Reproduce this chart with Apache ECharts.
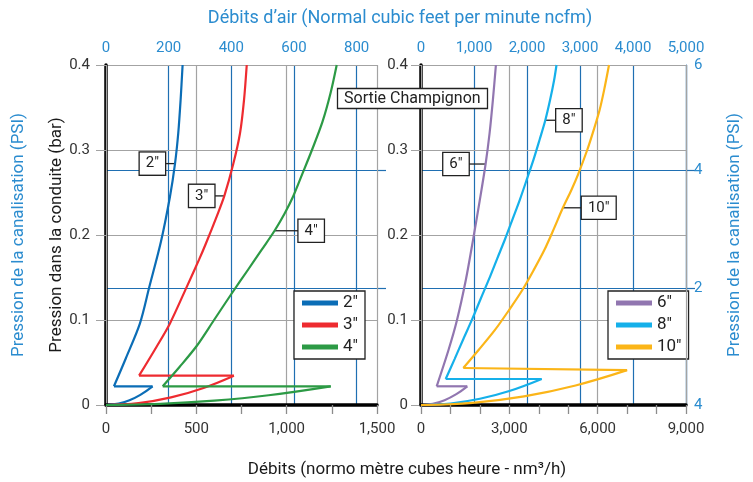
<!DOCTYPE html>
<html>
<head>
<meta charset="utf-8">
<script src="https://cdn.jsdelivr.net/npm/echarts@6/dist/echarts.min.js"></script>
<style>
  html, body { margin: 0; padding: 0; background: #fff; }
  #chart { width: 753px; height: 482px; }
</style>
</head>
<body>
<div id="chart"></div>
<script>
// débit en nm³/h (x), pression en bar (y)
// chaque courbe : branche basse (0 -> pic), retour horizontal, branche haute
const pipes = ['2″', '3″', '4″', '6″', '8″', '10″']
const colors = ['#0b6db6', '#ee2b30', '#2c9a45', '#9176b0', '#15b0ea', '#fbb518']

const curve2 = [[0, 0], [70, 0.0016], [130, 0.0056], [190, 0.0119], [258, 0.022], [44, 0.022], [110, 0.055], [188, 0.096], [240, 0.139], [304, 0.192], [354, 0.245], [382, 0.284], [400, 0.32], [413, 0.359], [424, 0.4]]
const curve3 = [[0, 0], [180, 0.0022], [360, 0.0089], [540, 0.0201], [708, 0.0345], [183, 0.0345], [280, 0.0686], [354, 0.096], [447, 0.139], [515, 0.171], [553, 0.19], [613, 0.222], [655, 0.246], [705, 0.284], [742, 0.32], [764, 0.359], [779, 0.4]]
const curve4 = [[0, 0], [300, 0.0013], [600, 0.0051], [900, 0.0115], [1244, 0.022], [314, 0.022], [408, 0.045], [504, 0.07], [598, 0.1], [692, 0.13], [789, 0.16], [863, 0.183], [933, 0.205], [988, 0.225], [1035, 0.245], [1085, 0.271], [1140, 0.3], [1198, 0.333], [1243, 0.367], [1277, 0.4]]
const curve6 = [[0, 0], [400, 0.0014], [800, 0.0057], [1200, 0.0128], [1573, 0.022], [533, 0.022], [937, 0.065], [1223, 0.1], [1522, 0.147], [1766, 0.194], [1997, 0.241], [2194, 0.2835], [2330, 0.32], [2442, 0.359], [2544, 0.4]]
const curve8 = [[0, 0], [1000, 0.0018], [2000, 0.0073], [3000, 0.0164], [4099, 0.0306], [839, 0.0306], [1141, 0.054], [1443, 0.078], [1739, 0.101], [2028, 0.125], [2309, 0.148], [2585, 0.172], [2853, 0.195], [3114, 0.219], [3362, 0.242], [3600, 0.266], [3824, 0.289], [4035, 0.313], [4222, 0.335], [4385, 0.359], [4520, 0.382], [4602, 0.4]]
const curve10 = [[0, 0], [1750, 0.0026], [3500, 0.0102], [5250, 0.023], [7000, 0.041], [1437, 0.0435], [1963, 0.065], [2506, 0.088], [2996, 0.112], [3437, 0.135], [3831, 0.159], [4184, 0.182], [4497, 0.206], [4819, 0.232], [5108, 0.253], [5332, 0.271], [5645, 0.3], [5869, 0.324], [6066, 0.347], [6222, 0.371], [6385, 0.4]]
const curves = [curve2, curve3, curve4, curve6, curve8, curve10]

// point de chaque courbe où est accrochée l'étiquette
const labelIdx = [11, 12, 12, 11, 18, 13]
const leadLen = [10, 10, 24, 17, 11, 19]
const leadSide = [-1, -1, 1, -1, 1, 1]

const barMax = 0.4
const psiMax = barMax * 14.5038
const psiTicks = [0, 2, 4, psiMax]
const psiText = ['4', '2', '4', '6'] // comme sur l'original
const cfmMaxLeft = 865
const cfmMaxRight = 5000

const font = 'Roboto'
const blueText = '#2b8ccf'
const blueLine = '#1f6fb2'
const grey = '#a3a3a3'
const ink = '#1a1a1a'

const chart = echarts.init(document.getElementById('chart'))

const fmt = v => v.toLocaleString('en-US')

function bottomAxis(grid, max, interval, minor) {
  return {
    type: 'value', gridIndex: grid, position: 'bottom', min: 0, max: max, interval: interval,
    axisLine: {show: true, onZero: false, lineStyle: {color: '#000', width: 3.5}},
    axisTick: {show: true, inside: false, length: 9, lineStyle: {color: '#8c8c8c', width: 1.3}},
    minorTick: {show: true, splitNumber: minor, length: 9, lineStyle: {color: '#8c8c8c', width: 1.3}},
    axisLabel: {margin: 17, color: '#333', fontSize: 15, fontFamily: font, formatter: fmt},
    splitLine: {show: true, lineStyle: {color: grey, width: 1.2}},
    z: 4,
  }
}

function topAxis(grid, max, showMax) {
  return {
    type: 'value', gridIndex: grid, position: 'top', min: 0, max: max, interval: grid === 0 ? 200 : 1000,
    axisLine: {show: false},
    axisTick: {length: 6, lineStyle: {color: blueLine}},
    axisLabel: {margin: 9, color: blueText, fontSize: 15, fontFamily: font, formatter: fmt, showMaxLabel: showMax},
    splitLine: {show: true, showMinLine: false, showMaxLine: showMax, lineStyle: {color: blueLine, width: 1.2}},
  }
}

function barAxis(grid, margin, name) {
  return {
    type: 'value', gridIndex: grid, position: 'left', min: 0, max: barMax, interval: 0.1,
    name: name, nameLocation: 'middle', nameGap: 38, nameRotate: 90,
    nameTextStyle: {color: ink, fontSize: 17, fontFamily: font},
    axisLine: {show: true, onZero: false, lineStyle: {color: '#000', width: 3.5}},
    axisTick: {length: 10, lineStyle: {color: grey}},
    axisLabel: {margin: margin, color: '#333', fontSize: 15, fontFamily: font},
    splitLine: {show: true, lineStyle: {color: grey, width: 1.2}},
    z: 3,
  }
}

function psiAxis(grid, withLabels) {
  return {
    type: 'value', gridIndex: grid, position: 'right', min: 0, max: psiMax, interval: 2,
    name: withLabels ? 'Pression de la canalisation (PSI)' : '',
    nameLocation: 'middle', nameGap: 40, nameRotate: 90,
    nameTextStyle: {color: blueText, fontSize: 17, fontFamily: font},
    axisLine: {show: withLabels, onZero: false, lineStyle: {color: blueLine, width: 1.2}},
    axisTick: {length: 9, customValues: [2, 4], lineStyle: {color: blueLine, width: 1.2}},
    axisLabel: {
      show: withLabels, margin: 8, color: blueText, fontSize: 15, fontFamily: font,
      formatter: v => psiText[psiTicks.indexOf(v)] || '',
    },
    splitLine: {show: true, lineStyle: {color: blueLine, width: 1.2}},
  }
}

const series = []
curves.forEach((data, i) => {
  const side = leadSide[i]
  const common = {
    name: pipes[i],
    type: 'line',
    xAxisIndex: i < 3 ? 0 : 2,
    yAxisIndex: i < 3 ? 0 : 3,
    showSymbol: false,
    lineStyle: {color: colors[i], width: 2.2},
    itemStyle: {color: colors[i]},
    z: 5,
  }
  series.push({...common, data: data.slice(0, 5), smooth: 0.4})
  series.push({...common, data: data.slice(4, 6), smooth: false})
  series.push({
    ...common,
    data: data.slice(5),
    smooth: 0.3,
    markPoint: {
      symbol: 'rect',
      symbolSize: [leadLen[i], 1.3],
      symbolOffset: [side * leadLen[i] / 2, 0],
      itemStyle: {color: '#222'},
      label: {
        show: true, position: side < 0 ? 'left' : 'right', distance: 0,
        formatter: pipes[i], color: '#222', fontSize: 15, fontFamily: font, lineHeight: 16,
        backgroundColor: '#fff', borderColor: '#222', borderWidth: 1.3, padding: [3, 6],
      },
      data: [{coord: data[labelIdx[i]]}],
    },
  })
})

function legendBox(left, names) {
  return {
    data: names, left: left, top: 291, orient: 'vertical', icon: 'rect',
    itemWidth: 36, itemHeight: 5, itemGap: 4, padding: [3, 7, 3, 8],
    backgroundColor: '#fff', borderColor: '#222', borderWidth: 1.3,
    textStyle: {color: '#222', fontSize: 17, fontFamily: font, lineHeight: 18},
  }
}

const options = {
  animation: false,
  backgroundColor: '#fff',
  title: [
    {
      text: 'Débits d’air (Normal cubic feet per minute ncfm)', left: 395, top: 4, textAlign: 'center',
      textStyle: {color: blueText, fontSize: 18, fontWeight: 'normal', fontFamily: font},
    },
    {
      text: 'Débits (normo mètre cubes heure - nm³/h)', left: 402, top: 456, textAlign: 'center',
      textStyle: {color: ink, fontSize: 17, fontWeight: 'normal', fontFamily: font},
    },
    {
      text: 'Sortie Champignon', left: 337, top: 88, padding: [2, 7],
      backgroundColor: '#fff', borderColor: '#222', borderWidth: 1.3,
      textStyle: {color: '#222', fontSize: 16, fontWeight: 'normal', fontFamily: font, lineHeight: 17},
    },
  ],
  legend: [legendBox(294, pipes.slice(0, 3)), legendBox(608, pipes.slice(3))],
  grid: [
    {left: 106, top: 65, width: 271, height: 340},
    {left: 421, top: 65, width: 265, height: 340},
  ],
  xAxis: [
    bottomAxis(0, 1500, 500, 2),
    topAxis(0, cfmMaxLeft, false),
    bottomAxis(1, 9000, 3000, 3),
    topAxis(1, cfmMaxRight, true),
  ],
  yAxis: [
    barAxis(0, 16, 'Pression dans la conduite (bar)'),
    psiAxis(0, false),
    {
      type: 'value', gridIndex: 0, position: 'left', min: 0, max: 1,
      name: 'Pression de la canalisation (PSI)', nameLocation: 'middle', nameGap: 79, nameRotate: 90,
      nameTextStyle: {color: blueText, fontSize: 17, fontFamily: font},
      axisLine: {show: false}, axisTick: {show: false}, axisLabel: {show: false}, splitLine: {show: false},
    },
    barAxis(1, 13, ''),
    psiAxis(1, true),
  ],
  series: series,
}
options && chart.setOption(options)
</script>
</body>
</html>
